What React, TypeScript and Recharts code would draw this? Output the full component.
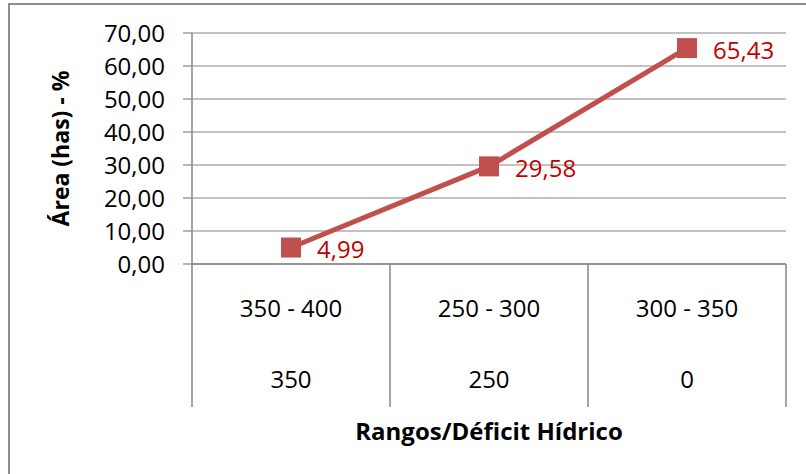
import React from 'react';
import { LineChart, Line, XAxis, YAxis, CartesianGrid, LabelList } from 'recharts';

const rangos = ['350 - 400', '250 - 300', '300 - 350'];
const deficit = ['350', '250', '0'];
const area = [4.99, 29.58, 65.43];
const yTicks = [0, 10, 20, 30, 40, 50, 60, 70];

const data = rangos.map((r, i) => ({ rango: r, deficit: deficit[i], area: area[i] }));

const FONT = '"Open Sans", sans-serif';
const GRID = '#868686';
const RED = '#C0504D';
const FS = 24;

const W = 806;
const H = 474;
const M = { top: 33, right: 20, bottom: 30, left: 92 };
const Y_AXIS_W = 100;
const HALF_BAND = (W - M.left - Y_AXIS_W - M.right) / rangos.length / 2;

const fmt = (v: number) => v.toFixed(2).replace('.', ',');

function CategoryTick(props: any) {
  const { x, y, index, payload } = props;
  return (
    <g>
      <line x1={x - HALF_BAND} x2={x - HALF_BAND} y1={y} y2={y + 143} stroke={GRID} strokeWidth={1.5} />
      {index === rangos.length - 1 && (
        <line x1={x + HALF_BAND} x2={x + HALF_BAND} y1={y} y2={y + 143} stroke={GRID} strokeWidth={1.5} />
      )}
      <text x={x} y={y + 43} textAnchor="middle" dominantBaseline="central" fontFamily={FONT} fontSize={FS} fill="#000">
        {payload.value}
      </text>
      <text x={x} y={y + 114} textAnchor="middle" dominantBaseline="central" fontFamily={FONT} fontSize={FS} fill="#000">
        {deficit[index]}
      </text>
    </g>
  );
}

function SquareDot(props: any) {
  const { cx, cy, index } = props;
  return <rect key={index} x={cx - 10} y={cy - 10} width={20} height={20} fill={RED} />;
}

function ValueLabel(props: any) {
  const { x, y, value } = props;
  return (
    <text x={x + 26} y={y + 1} dominantBaseline="central" fontFamily={FONT} fontSize={FS} fill="#C00000">
      {fmt(value)}
    </text>
  );
}

export default function App() {
  return (
    <div style={{ position: 'absolute', left: 0, top: 0, width: W, height: H, background: '#fff', overflow: 'hidden' }}>
      <div
        style={{
          position: 'absolute',
          left: 8,
          top: 3,
          width: W,
          height: H,
          borderLeft: '2px solid #8e8e8e',
          borderTop: '2px solid #8e8e8e',
        }}
      />
      <div style={{ position: 'absolute', left: 0, top: 0 }}>
        <LineChart width={W} height={H} data={data} margin={M}>
          <CartesianGrid horizontal vertical={false} stroke={GRID} strokeWidth={1.2} />
          <XAxis
            dataKey="rango"
            padding={{ left: HALF_BAND, right: HALF_BAND }}
            axisLine={{ stroke: GRID, strokeWidth: 1.5 }}
            tickLine={false}
            tickSize={0}
            tickMargin={0}
            height={180}
            interval={0}
            tick={<CategoryTick />}
            label={{
              content: (p: any) => (
                <text
                  x={p.viewBox.x + p.viewBox.width / 2}
                  y={p.viewBox.y + 166}
                  textAnchor="middle"
                  dominantBaseline="central"
                  fontFamily={FONT}
                  fontSize={FS}
                  fontWeight="bold"
                  fill="#000"
                >
                  Rangos/Déficit Hídrico
                </text>
              ),
            }}
          />
          <YAxis
            width={Y_AXIS_W}
            domain={[0, 70]}
            ticks={yTicks}
            interval={0}
            tickFormatter={fmt}
            axisLine={{ stroke: GRID, strokeWidth: 1.5 }}
            tickLine={{ stroke: GRID, strokeWidth: 1.2 }}
            tickSize={9}
            tickMargin={18}
            tick={{ fontFamily: FONT, fontSize: FS, fill: '#000' }}
            label={{
              content: (p: any) => {
                const cx = 60;
                const cy = p.viewBox.y + p.viewBox.height / 2;
                return (
                  <text
                    x={cx}
                    y={cy}
                    transform={`rotate(-90 ${cx} ${cy})`}
                    textAnchor="middle"
                    dominantBaseline="central"
                    fontFamily={FONT}
                    fontSize={23}
                    fontWeight="bold"
                    fill="#000"
                  >
                    Área (has) - %
                  </text>
                );
              },
            }}
          />
          <Line
            dataKey="area"
            stroke={RED}
            strokeWidth={5}
            dot={<SquareDot />}
            activeDot={false}
            isAnimationActive={false}
          >
            <LabelList dataKey="area" content={<ValueLabel />} />
          </Line>
        </LineChart>
      </div>
    </div>
  );
}
